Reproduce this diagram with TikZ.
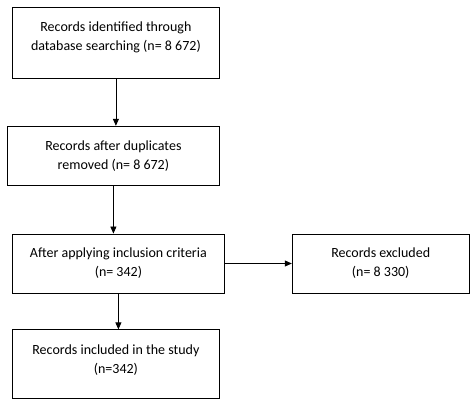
\documentclass[tikz,border=0pt]{standalone}
\usepackage{fontspec}
\setmainfont{Carlito}
\usetikzlibrary{positioning, arrows.meta}
\tikzstyle{record} = [rectangle,
minimum width=207pt,
minimum height=59pt,
text centered,
align=center,
draw=black,
line width=0.8pt,
font=\fontsize{14}{19}\selectfont]
\tikzstyle{arrow} = [line width=0.8pt,->,>={Triangle[length=7pt,width=6pt]}]
\begin{document}
\begin{tikzpicture}[x=1pt,y=-1pt]
  \useasboundingbox (0,0) rectangle (474,403);

  \node (ident) [record, minimum height=71pt, text depth=13pt, anchor=north west] at (12,7) {Records identified through\\ database searching (n= 8 672)};
  \node (dedup) [record, minimum width=212pt, below=47pt of ident, xshift=-2.5pt] {Records after duplicates\\ removed (n= 8 672)};
  \node (screened) [record, minimum width=212pt, below=48pt of dedup, xshift=5pt] {After applying inclusion criteria\\ (n= 342)};
  \node (excluded) [record, minimum width=177pt, right=67pt of screened] {Records excluded\\ (n= 8 330)};
  \node (included) [record, minimum height=69pt, text depth=11pt, below=36pt of screened, xshift=-2.5pt] {Records included in the study\\ (n=342)};

  \draw [arrow] (ident.south) -- (ident.south |- dedup.north);
  \draw [arrow] (dedup.south) -- (dedup.south |- screened.north);
  \draw [arrow] (screened.east) -- (excluded.west);
  \draw [arrow] (screened.south) -- (screened.south |- included.north);

\end{tikzpicture}
\end{document}
